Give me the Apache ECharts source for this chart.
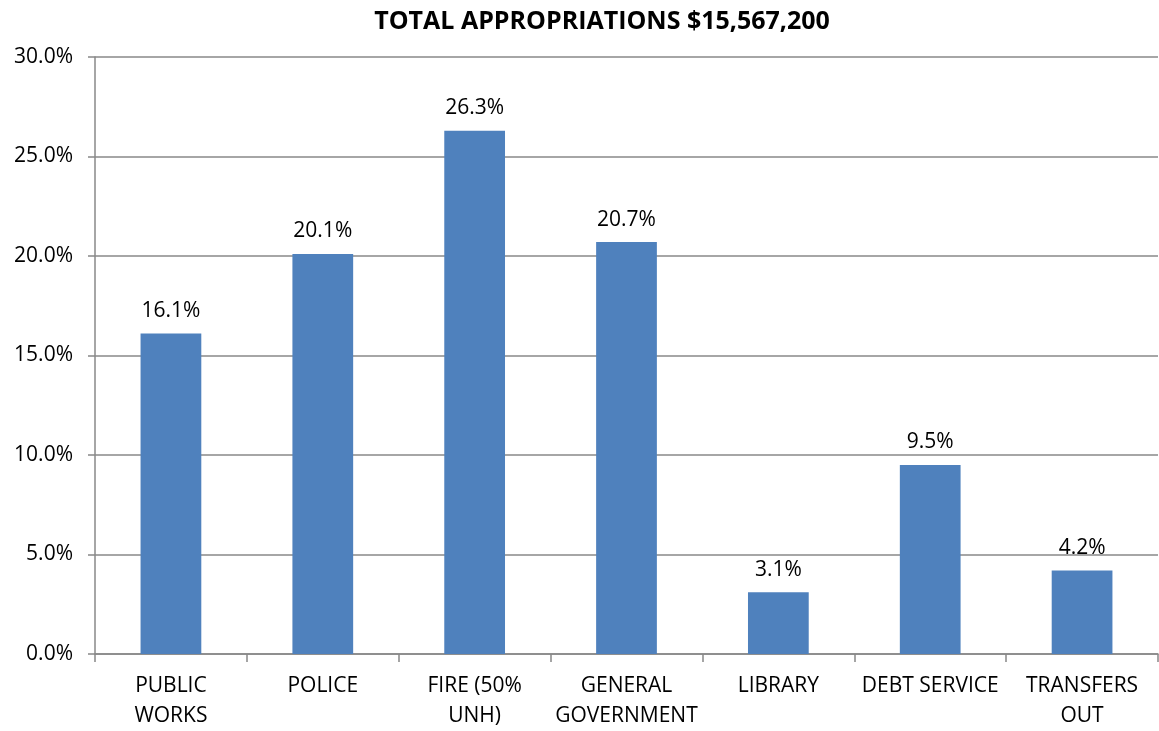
<!DOCTYPE html>
<html>
<head>
<meta charset="utf-8">
<script src="https://cdn.jsdelivr.net/npm/echarts@6/dist/echarts.min.js"></script>
<style>html,body{margin:0;padding:0;background:#fff}#c{width:1159px;height:731px}</style>
</head>
<body>
<div id="c"></div>
<script>
const title = 'TOTAL APPROPRIATIONS $15,567,200';
const categories = ['PUBLIC\nWORKS', 'POLICE', 'FIRE (50%\nUNH)', 'GENERAL\nGOVERNMENT', 'LIBRARY', 'DEBT SERVICE', 'TRANSFERS\nOUT'];
const values = [16.1, 20.1, 26.3, 20.7, 3.1, 9.5, 4.2];
const yTicks = [0, 5, 10, 15, 20, 25, 30];

const FONT = '"Open Sans", "Liberation Sans", sans-serif';
const chart = echarts.init(document.getElementById('c'));
chart.setOption({
  animation: false,
  backgroundColor: '#fff',
  title: {
    text: title, left: 597, top: 4, textAlign: 'center',
    textStyle: {fontFamily: FONT, fontSize: 25, fontWeight: 'bold', color: '#000'}
  },
  grid: {left: 95, right: 1, top: 57, bottom: 76, containLabel: false},
  xAxis: {
    type: 'category', data: categories,
    axisLine: {lineStyle: {color: '#888', width: 1.5}},
    axisTick: {show: true, alignWithLabel: false, length: 8, lineStyle: {color: '#888', width: 1.5}},
    axisLabel: {fontFamily: FONT, fontSize: 21, color: '#000', margin: 17, lineHeight: 30, interval: 0}
  },
  yAxis: {
    type: 'value', min: yTicks[0], max: yTicks[yTicks.length-1], interval: 5,
    axisLine: {show: true, lineStyle: {color: '#888', width: 1.5}},
    axisTick: {show: true, length: 7, lineStyle: {color: '#888', width: 1.5}},
    splitLine: {lineStyle: {color: '#888', width: 1.5}},
    axisLabel: {fontFamily: FONT, fontSize: 21, color: '#000', margin: 22, formatter: v => v.toFixed(1) + '%'}
  },
  series: [{
    type: 'bar', data: values, barWidth: '40%',
    itemStyle: {color: '#4F81BD'},
    label: {show: true, position: 'top', distance: 12, fontFamily: FONT, fontSize: 21, color: '#000',
      formatter: p => p.value.toFixed(1) + '%'}
  }]
});
</script>
</body>
</html>
